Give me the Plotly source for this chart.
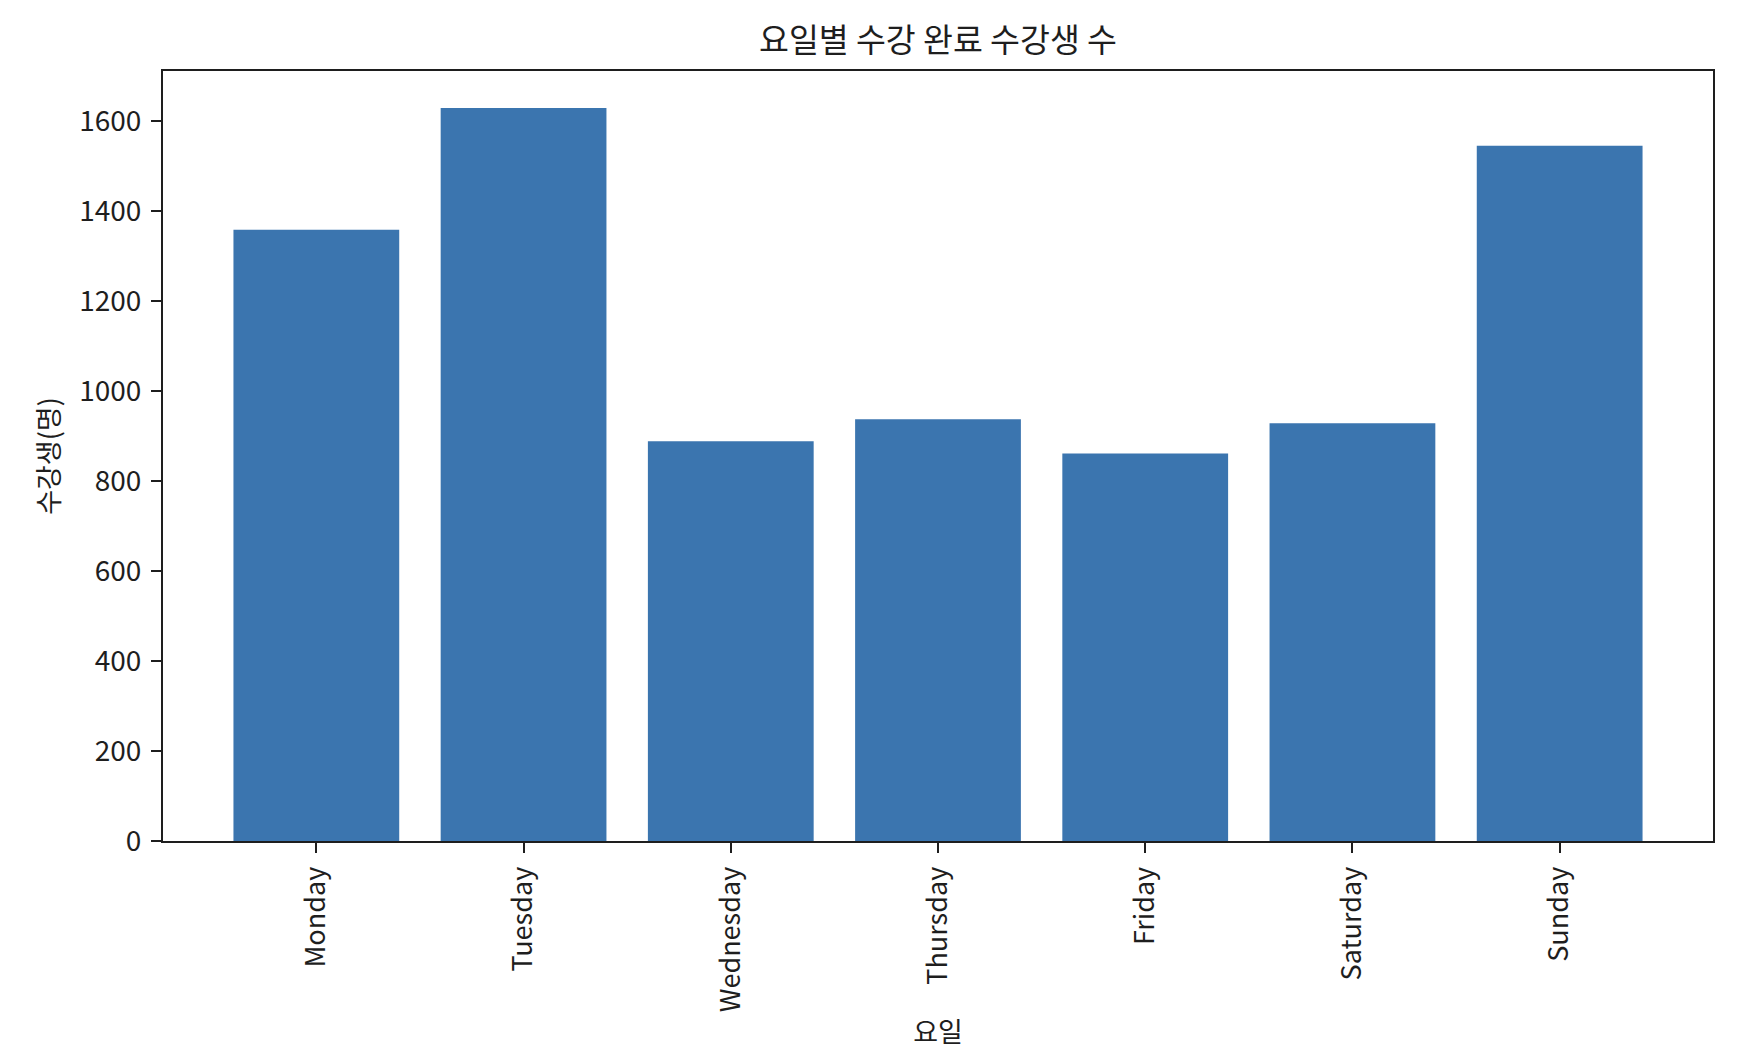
import plotly.graph_objects as go

days = ["Monday", "Tuesday", "Wednesday", "Thursday", "Friday", "Saturday", "Sunday"]
students = [1358, 1629, 888, 937, 861, 928, 1545]
y_ticks = [0, 200, 400, 600, 800, 1000, 1200, 1400, 1600]

title_text = "요일별 수강 완료 수강생 수"
x_title = "요일"
y_title = "수강생(명)"

FONT = "Noto Sans CJK KR"
BAR = "#3B75AF"
INK = "#1e1e1e"

fig = go.Figure()
fig.add_trace(go.Bar(x=days, y=students, marker=dict(color=BAR, line=dict(width=0)), width=0.8))

W, H = 1762, 1056
L, R, T, B = 155, 57, 63, 223

fig.update_layout(
    width=W, height=H,
    margin=dict(l=L, r=R, t=T, b=B, autoexpand=False),
    paper_bgcolor="white", plot_bgcolor="white",
    font=dict(family=FONT, size=27, color=INK),
    showlegend=False,
    title=dict(text=title_text, x=(L + (W - R)) / 2 / W, xanchor="center",
               y=1 - 33 / H, yanchor="middle", yref="container",
               font=dict(family=FONT, size=32.5, color=INK)),
)

fig.update_xaxes(
    range=[-0.74, 6.74],
    tickangle=-90,
    ticks="outside", ticklen=10, tickwidth=2, tickcolor=INK,
    ticklabelstandoff=3,
    showline=True, linecolor=INK, linewidth=2, mirror=True,
    showgrid=False, zeroline=False,
    tickfont=dict(family=FONT, size=27, color=INK),
    title=dict(text=x_title, standoff=12, font=dict(family=FONT, size=27, color=INK)),
)
fig.update_yaxes(
    range=[0, 1711],
    tickmode="array", tickvals=y_ticks, ticktext=[str(v) for v in y_ticks],
    ticks="outside", ticklen=10, tickwidth=2, tickcolor=INK,
    ticklabelstandoff=4,
    showline=True, linecolor=INK, linewidth=2, mirror=True,
    showgrid=False, zeroline=False,
    tickfont=dict(family=FONT, size=28, color=INK),
    title=dict(text=y_title, standoff=12, font=dict(family=FONT, size=27, color=INK)),
)

fig.write_html("out.html")
